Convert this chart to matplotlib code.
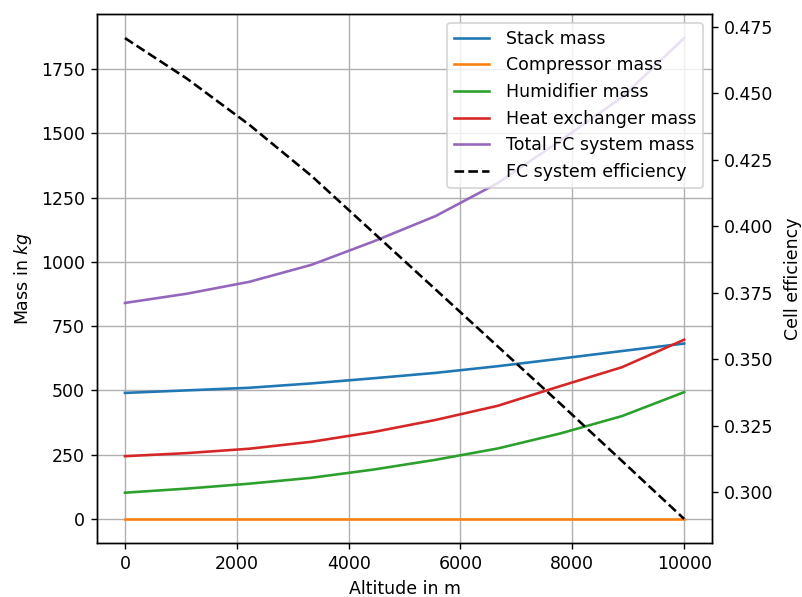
import numpy as np
import matplotlib
matplotlib.use("Agg")
import matplotlib.pyplot as plt

altitude = [0, 1111, 2222, 3333, 4444, 5556, 6667, 7778, 8889, 10000]
stack_mass = [490, 500, 510, 527, 547, 568, 594, 623, 653, 682]
compressor_mass = [0, 0, 0, 0, 0, 0, 0, 0, 0, 0]
humidifier_mass = [102, 118, 137, 160, 192, 230, 274, 332, 400, 493]
heat_exchanger_mass = [244, 256, 273, 300, 338, 385, 440, 516, 590, 697]
total_mass = [840, 876, 922, 988, 1079, 1178, 1306, 1470, 1640, 1870]
efficiency = [0.4708, 0.4555, 0.4382, 0.4190, 0.3976, 0.3762, 0.3548, 0.3334, 0.3117, 0.2899]

fig = plt.figure(figsize=(8.03 / 1.25, 5.97 / 1.25), dpi=125)
ax1 = fig.add_axes([0.1208, 0.0905, 0.766, 0.886])
ax2 = ax1.twinx()

l1, = ax1.plot(altitude, stack_mass, label='Stack mass')
l2, = ax1.plot(altitude, compressor_mass, label='Compressor mass')
l3, = ax1.plot(altitude, humidifier_mass, label='Humidifier mass')
l4, = ax1.plot(altitude, heat_exchanger_mass, label='Heat exchanger mass')
l5, = ax1.plot(altitude, total_mass, label='Total FC system mass')
l6, = ax2.plot(altitude, efficiency, 'k--', label='FC system efficiency')

ax1.set_xlabel('Altitude in m')
ax1.set_ylabel('Mass in $kg$')
ax2.set_ylabel('Cell efficiency', labelpad=6)
ax1.grid()

lines = [l1, l2, l3, l4, l5, l6]
ax2.legend(lines, [l.get_label() for l in lines], loc='upper right',
           handletextpad=1.0)

fig.savefig('out.png', dpi=125)
